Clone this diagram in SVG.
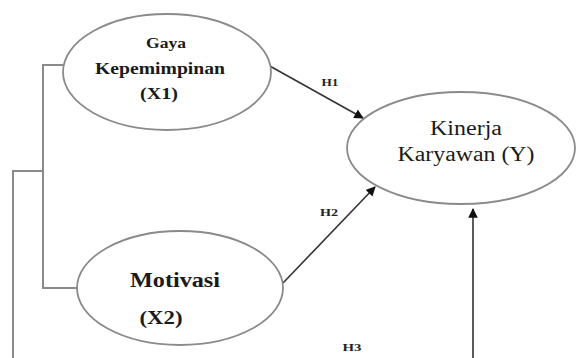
<svg xmlns="http://www.w3.org/2000/svg" width="576" height="358" viewBox="0 0 576 358">
<style>
.node{fill:#fff;stroke:#8a8a8a;stroke-width:1.8}
.t{font-family:"Liberation Serif","DejaVu Serif","Times New Roman",serif;font-weight:bold;fill:#1a1a1a;text-anchor:middle}
.tr{font-family:"Liberation Serif","DejaVu Serif","Times New Roman",serif;fill:#1a1a1a;text-anchor:middle}
.lbl{font-family:"Liberation Serif","DejaVu Serif","Times New Roman",serif;font-weight:bold;font-size:11px;fill:#222;text-anchor:middle}
.arr{fill:none;stroke:#333;stroke-width:1.6}
.grey{fill:none;stroke:#8a8a8a;stroke-width:2}
</style>
<defs>
<marker id="ah" viewBox="0 0 10 10" refX="9" refY="5" markerWidth="6" markerHeight="6" orient="auto" markerUnits="strokeWidth">
<path d="M0,0 L10,5 L0,10 z" fill="#111"/>
</marker>
</defs>
<rect width="576" height="358" fill="#fff"/>
<g id="connectors">
<polyline class="grey" points="63,65 43,65 43,288 77,288"/>
<polyline class="grey" points="43,171 13,171 13,358"/>
<line class="arr" x1="268" y1="65" x2="363" y2="118" marker-end="url(#ah)"/>
<line class="arr" x1="283" y1="283" x2="375" y2="187" marker-end="url(#ah)"/>
<line class="arr" x1="473" y1="358" x2="473" y2="209" stroke="#777" stroke-width="2" marker-end="url(#ah)"/>
<text class="lbl" x="330" y="86" textLength="17" lengthAdjust="spacingAndGlyphs">H1</text>
<text class="lbl" x="329" y="216" textLength="18" lengthAdjust="spacingAndGlyphs">H2</text>
<text class="lbl" x="352" y="351" textLength="19" lengthAdjust="spacingAndGlyphs">H3</text>
</g>
<g id="x1">
<ellipse class="node" cx="167" cy="72" rx="104" ry="58"/>
<text class="t" x="166" y="48" font-size="15" textLength="40" lengthAdjust="spacingAndGlyphs">Gaya</text>
<text class="t" x="160" y="74" font-size="16" textLength="130" lengthAdjust="spacingAndGlyphs">Kepemimpinan</text>
<text class="t" x="159" y="99" font-size="16" textLength="38" lengthAdjust="spacingAndGlyphs">(X1)</text>
</g>
<g id="y">
<ellipse class="node" cx="461" cy="148" rx="114" ry="56"/>
<text class="tr" x="466" y="135" font-size="20" textLength="72" lengthAdjust="spacingAndGlyphs">Kinerja</text>
<text class="tr" x="466" y="161" font-size="20" textLength="137" lengthAdjust="spacingAndGlyphs">Karyawan (Y)</text>
</g>
<g id="x2">
<ellipse class="node" cx="180" cy="288" rx="103" ry="57"/>
<text class="t" x="175" y="287" font-size="20" textLength="90" lengthAdjust="spacingAndGlyphs">Motivasi</text>
<text class="t" x="161" y="324" font-size="18" textLength="43" lengthAdjust="spacingAndGlyphs">(X2)</text>
</g>
</svg>
